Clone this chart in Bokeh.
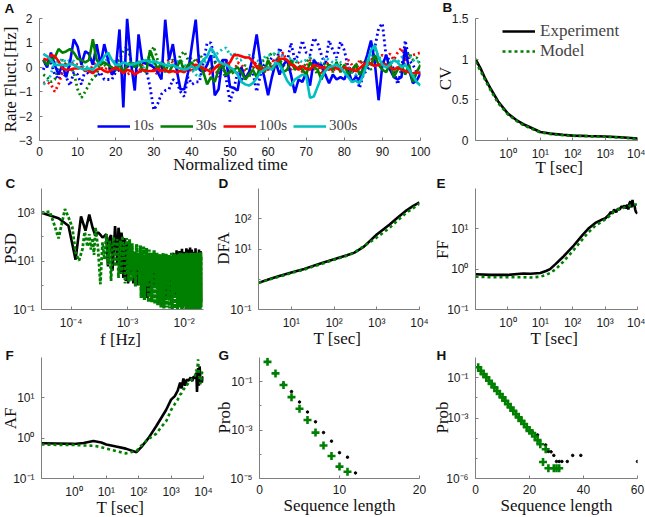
from math import pi
from bokeh.plotting import figure
from bokeh.layouts import column, row
from bokeh.models import FixedTicker, Label, Legend, LegendItem
from bokeh.embed import file_html
from bokeh.resources import INLINE

BLUE, GREEN, RED, CYAN, BLACK = "#0000ff", "#008000", "#ff0000", "#00bfbf", "#000000"
GREY = "#7f7f7f"

# ---------- A
blue_s = [0.3,0.0,0.6,0.1,-0.3,0.1,-0.4,0.2,1.15,0.85,0.1,0.65,0.55,0.1,0.95,0.1,0.95,0.3,-0.3,-0.1,1.55,-1.65,2.0,0.2,-0.95,1.35,0.2,0.15,0.1,0.0,-0.2,-0.5,1.95,0.3,0.95,-0.1,-0.9,-0.9,-0.2,0.9,1.95,-0.1,-0.2,0.1,0.5,-1.15,-0.9,0.3,0.3,-0.8,-0.85,-0.95,0.0,-0.5,-0.2,0.4,1.35,0.2,-0.4,-1.15,-0.4,0.2,-0.3,0.1,0.3,-0.3,-1.05,-0.5,-0.6,-0.2,-0.75,0.3,0.1,0.1,-0.3,-0.65,-0.3,-0.5,-0.4,-0.5,-0.1,-0.6,-0.4,-0.5,0.0,0.5,1.1,0.2,-1.35,0.1,0.5,-0.1,-0.4,-0.5,-0.4,0.8,-0.1,-0.65,-0.55,-0.25]
blue_d = [-0.1,0.3,0.2,-0.3,-0.5,-0.2,-0.4,-0.75,-0.2,-0.3,-0.7,-0.1,-0.3,-0.1,-0.4,-0.2,-0.5,-0.5,-0.5,-0.2,-0.1,-0.3,0.1,-0.2,-0.3,-0.1,-0.2,-0.1,-0.8,-1.75,-1.5,-1.1,-0.95,-0.9,-0.5,-0.6,-1.0,-1.2,-0.4,-0.7,-0.6,-0.6,0.2,1.0,1.0,0.3,-0.3,0.3,-0.5,-1.4,-0.9,-0.2,-0.5,-0.4,-0.3,-0.2,-1.0,-0.3,0.1,0.2,0.4,0.1,0.8,0.4,0.2,1.0,0.3,0.5,1.1,0.6,0.5,1.2,1.0,0.5,0.1,1.1,0.7,0.4,1.05,0.7,0.0,-0.1,-0.3,-0.85,-0.3,-0.1,0.1,0.8,1.6,1.8,0.4,0.3,-0.1,-0.7,-0.1,1.1,0.3,0.1,-0.2,-0.2]
green_s = [0.3,0.1,0.3,0.4,0.75,0.6,0.65,0.75,0.6,0.35,0.3,0.2,0.3,1.15,0.3,0.1,0.2,0.1,0.0,-0.1,0.1,-0.2,0.1,0.2,0.0,0.25,-0.1,-0.2,0.7,0.3,-0.1,0.2,-0.1,-0.2,0.1,0.0,0.3,-0.2,0.1,0.2,-0.1,0.1,-0.2,-0.7,-0.4,-0.6,-0.1,0.1,-0.3,-0.2,-0.1,0.0,-0.2,-0.5,-0.3,-0.1,-0.4,0.1,-0.2,0.3,-0.1,0.1,0.3,-0.2,-0.1,0.3,-0.1,0.0,-0.1,-0.3,0.2,0.0,-0.1,-0.5,-0.1,0.1,-0.1,0.2,-0.2,0.1,-0.3,-0.1,0.1,-0.3,-0.1,0.3,0.1,0.5,0.1,-0.1,-0.2,0.2,-0.4,-0.1,0.1,-0.3,0.1,-0.6,-0.2,0.1]
green_d = [-0.3,-0.4,-0.6,-0.5,0.0,0.3,0.1,0.0,-0.2,-0.9,-1.25,-1.0,-0.7,-0.45,-0.3,0.2,0.1,0.0,-0.1,0.2,0.3,0.7,0.85,0.3,0.1,0.0,0.3,0.2,0.5,0.85,0.3,0.1,-0.2,0.2,0.3,0.1,0.5,0.65,0.3,0.4,0.2,0.55,0.3,0.1,-0.1,0.2,0.0,-0.2,-0.4,0.0,-0.3,-0.1,-0.2,0.1,-0.4,0.0,-0.1,0.2,0.3,0.4,0.6,0.5,0.3,0.1,-0.2,0.2,0.3,0.1,-0.1,0.2,0.4,0.0,-0.3,-0.1,0.2,0.1,-0.2,0.2,0.1,-0.1,-0.4,-0.2,0.1,0.2,0.3,0.1,-0.1,0.3,0.5,0.1,0.2,-0.1,-0.3,0.0,-0.2,0.3,0.6,0.3,0.4,0.1]
red_s = [0.35,0.3,0.5,0.45,0.25,-0.05,-0.1,-0.1,-0.05,-0.05,0.0,-0.15,-0.1,-0.25,-0.1,-0.05,-0.15,-0.2,-0.1,0.0,-0.1,-0.25,-0.1,-0.15,-0.3,-0.2,-0.1,-0.15,-0.15,-0.15,-0.05,-0.15,-0.1,-0.2,-0.15,-0.2,-0.15,-0.2,-0.05,0.05,0.1,0.05,-0.05,-0.1,-0.2,-0.05,0.1,0.15,0.1,0.2,0.5,0.5,0.45,0.4,0.4,0.25,0.0,-0.05,-0.05,-0.1,0.0,0.15,0.35,0.35,0.3,0.1,0.05,-0.1,0.05,-0.05,-0.1,0.1,0.05,0.0,-0.05,-0.1,0.05,-0.05,-0.1,0.0,-0.05,-0.1,-0.15,-0.05,0.1,0.2,0.15,0.05,0.1,0.15,0.1,0.0,-0.1,0.0,-0.1,-0.15,-0.2,-0.25,-0.2,-0.25]
red_d = [-0.65,-0.6,-0.7,-1.0,-0.7,-0.2,0.2,0.1,0.2,0.1,0.0,-0.1,-0.2,0.1,0.2,0.0,-0.1,0.0,-0.2,-0.1,0.0,-0.1,-0.3,-0.2,-0.1,-0.2,0.1,0.2,0.1,-0.1,-0.3,0.1,0.2,0.3,0.2,-0.1,-0.2,0.1,0.0,-0.2,0.2,0.3,0.0,-0.2,-0.3,0.0,-0.4,0.1,0.3,0.0,-0.2,0.2,0.1,-0.2,-0.3,0.1,0.2,-0.1,-0.2,0.0,0.3,0.2,0.5,0.6,0.2,-0.1,0.1,0.2,-0.2,0.0,0.3,-0.1,0.2,-0.3,0.1,0.2,-0.2,0.1,-0.1,0.0,0.3,0.1,-0.2,0.3,0.1,0.2,0.4,0.2,0.4,0.5,0.4,0.55,0.3,0.6,0.8,0.3,0.4,0.5,0.55,0.6]
cyan_s = [0.55,0.45,0.3,0.1,0.1,0.1,0.05,0.15,0.1,0.0,-0.05,-0.1,-0.05,-0.1,0.1,0.2,0.45,0.6,0.3,0.1,0.1,0.2,0.15,0.1,0.15,0.2,0.25,0.3,0.2,0.25,0.2,0.15,0.1,0.05,0.1,0.0,-0.05,-0.1,-0.05,0.05,-0.1,0.1,0.3,0.45,0.8,0.55,0.25,0.15,0.1,0.0,-0.1,-0.3,-0.6,-0.7,-0.75,-0.65,-0.45,-0.2,-0.1,0.0,-0.1,0.2,0.1,-0.2,-0.55,-0.75,-0.5,-0.4,-0.3,-0.35,-1.25,-1.2,-0.8,-0.4,-0.15,0.0,0.05,0.1,0.0,-0.2,-0.4,-0.6,-0.55,-0.65,-0.3,0.15,0.7,0.9,0.4,0.1,0.0,0.1,0.3,0.2,0.0,0.1,-0.1,-0.35,-0.6,-0.75]
cyan_d = [-0.7,-0.6,-0.3,0.3,0.2,0.35,0.2,0.3,0.25,-0.05,0.0,0.1,-0.1,-0.2,0.1,0.3,0.2,0.4,0.3,0.2,0.1,0.3,0.2,0.1,0.0,0.1,-0.1,0.2,0.3,0.1,0.0,-0.1,0.1,0.2,0.0,0.2,0.3,0.1,0.0,-0.1,-0.3,-0.4,0.1,0.3,0.4,0.5,0.6,0.75,0.8,0.5,0.6,0.3,0.3,0.4,0.5,0.4,0.3,0.2,0.4,0.5,0.5,0.6,0.6,0.4,0.3,0.4,0.2,0.3,0.2,0.3,0.4,0.3,0.1,0.2,0.4,0.3,0.2,0.3,0.2,0.1,0.0,-0.2,-0.3,-0.2,0.0,0.2,0.4,0.8,0.4,0.3,0.1,0.2,0.3,0.2,0.4,0.5,0.5,0.3,0.2,0.3]
a_legend = ["10s", "30s", "100s", "300s"]

# ---------- B
cv_t = [0.1,0.15,0.2,0.3,0.5,1,2,3,5,10,20,50,100,300,1000,3000,10000]
cv_exp = [1.0,0.87,0.76,0.63,0.48,0.33,0.24,0.2,0.16,0.105,0.085,0.07,0.06,0.055,0.05,0.04,0.025]
cv_mod = [0.97,0.84,0.74,0.61,0.46,0.32,0.23,0.19,0.15,0.1,0.08,0.065,0.058,0.052,0.047,0.037,0.02]

# ---------- C
psd_exp_k = [1,2,3,4,5,6,7,8,9,10,11,12,13,14,15,16,17,18,19,20,21,22,23,24,25,26,27,28,29,30,31,32,33,34,35,36,38,40,42,44,46,48,50,54,58,62,66,70,75,80,85,90,100,110,120,130,140,150,160,170,180,190,200,215,230,245,260,275,290,305,320,335,350,365,380,395,410,425,440,455,470,490,510,530,550,570,590,610,630,650,666]
psd_exp = [1000,590,290,11.5,700,180,830,245,112,155,123,95,110,130,6,90,120,4,30,280,50,7,240,100,3,150,60,2,40,90,1.5,30,60,1.2,25,50,3,20,1.2,18,4,15,1,12,3,0.4,8,2,0.3,5,0.35,6,1,12,0.4,10,0.3,8,0.25,9,0.5,16,0.2,22,0.3,28,0.2,26,0.4,32,0.2,24,0.3,34,0.2,30,0.15,36,0.3,30,0.2,24,0.15,34,0.3,22,0.2,30,0.3,26,0.2]
psd_mod_k = [1,1.4,1.7,2,2.6,3,3.5,4,4.6,5.3,5.8,6.5,7,7.5,8,8.5,9,10,11,12,13,14,15,16,17,18,19,20,21,22,23,24,25,26,27,28,29,30,31,32,33,34,35,36,37,38,39,40,42,44,46,48,50,52,54,56,58,60,62,64,66,68,70,72,74,76,78,80,83,86,89,92,95,98,101,104,107,110,114,118,122,126,130,134,138,142,146,150,155,160,165,170,175,180,185,190,195,200,206,212,218,224,230,236,242,248,254,260,266,272,278,284,290,296,302,308,314,320,326,332,338,344,350,356,362,368,374,380,386,392,398,404,410,416,422,428,434,440,446,452,458,464,470,476,482,488,494,500,506,512,518,524,530,536,542,548,554,560,566,572,578,584,590,596,602,608,614,620,626,632,638,644,650,656,662,666]
psd_mod = [1000,1100,300,87,1400,650,250,23,10.5,31,160,40,130,30,90,18,250,35,1.1,60,12,130,7,70,1.5,45,100,6,35,80,2,25,70,3,110,12,50,1.2,40,90,3,30,1.4,80,6,30,1.5,55,2,25,0.9,50,5,22,1,45,0.3,20,3,40,0.25,18,1.5,35,0.9,20,0.2,30,2,22,0.2,20,4,28,0.17,15,1,22,0.15,18,3,20,0.12,15,0.5,22,0.11,16,1,20,0.12,13,0.3,18,0.11,16,2,22,0.1,14,0.3,20,0.11,15,0.6,18,0.1,20,1,14,0.12,22,0.3,16,0.1,18,2,21,0.11,14,0.4,20,0.1,17,0.8,22,0.13,15,0.2,19,0.1,21,1.5,16,0.11,20,0.3,22,0.1,14,0.6,18,0.12,21,0.2,16,0.1,22,1,19,0.11,15,0.4,20,0.1,22,0.7,17,0.12,20,0.2,14,0.1,21,1.2,18,0.11,22,0.35,16,0.1,20,0.5,23,0.12,17,0.25,21,0.1,18]

# ---------- D
dfa_t = [1.7,3,5,10,20,50,100,200,300,500,1000,2000,3000,5000,7000,10000]
dfa_exp = [0.76,1.0,1.25,1.66,2.2,3.4,4.6,6.2,7.6,12,30,65,105,190,260,350]
dfa_mod = [0.76,0.98,1.2,1.6,2.1,3.2,4.4,6.0,7.6,12.5,24,50,85,160,220,320]

# ---------- E
ff_t = [0.1,0.3,1,3,5,10,15,20,30,50,100,200,300,500,800,1000,1300,1500,1700,1900,2200,2500,2800,3200,3600,4000,4400,4800,5200,5600,6000,6500,7000,7500,8000,8500,9000,10000]
ff_exp = [0.75,0.72,0.72,0.78,0.77,0.8,0.9,1.0,1.35,2.0,3.6,7,10,14,17,18,22,26,24,30,26,32,30,36,34,38,32,40,30,42,48,34,52,36,40,30,26,24]
ff_mod = [0.65,0.63,0.63,0.63,0.62,0.65,0.72,0.8,1.0,1.5,2.8,5.5,8,12,15,17,20,23,25,27,28,30,31,32,33,34,35,36,36,37,38,38,39,39,40,40,40,40]

# ---------- F
af_t = [0.1,0.3,1,2,4,7,10,20,40,85,120,200,350,500,700,1000,1300,1600,1900,2100,2400,2700,3000,3500,4000,4500,5000,5500,6000,6300,6800,7200,7600,8000,8500,9000,10000]
af_exp = [0.75,0.74,0.72,0.76,0.85,0.78,0.7,0.62,0.55,0.45,0.6,1.0,2.0,3.2,5,9,11,15,24,17,30,20,28,27,32,26,34,30,42,14,55,20,60,30,28,24,34]
af_mod = [0.7,0.68,0.68,0.66,0.65,0.6,0.55,0.48,0.42,0.48,0.65,0.95,1.3,1.9,2.6,5,7,9,12,13,16,18,20,24,26,30,32,36,50,40,90,45,30,22,26,40,50]

# ---------- G
g_n = [1,2,3,4,5,6,7,8,9,10,11,12]
g_exp = [0.66,0.22,0.08,0.039,0.0145,0.0056,0.0022,0.00079,0.00035,0.000117,0.000076,0.000017]
g_mod_n = [1,2,3,4,5,6,7,8,9,10,11]
g_mod = [0.66,0.22,0.073,0.023,0.0076,0.0026,0.00079,0.00023,0.000085,0.000031,0.000019]

# ---------- H
h_n = [1,2,3,4,5,6,7,8,9,10,11,12,13,14,15,16,17,18,19,20,21,23,26,27,28,29,30,31,32,34,36,39,60]
h_exp = [0.33,0.22,0.15,0.105,0.07,0.049,0.033,0.022,0.0155,0.0105,0.0072,0.0049,0.0033,0.0023,0.00155,0.00107,0.00072,0.0005,0.00035,0.00023,0.00021,0.000145,0.000046,0.000022,0.000021,0.000014,0.000007,0.000007,0.000007,0.000007,0.000014,0.000014,0.000007]
h_mod_n = [1,2,3,4,5,6,7,8,9,10,11,12,13,14,15,16,17,18,19,20,21,22,23,24,25,26,27,29,30,31]
h_mod = [0.33,0.22,0.15,0.105,0.07,0.049,0.033,0.022,0.0155,0.0105,0.0072,0.0049,0.0033,0.0023,0.00155,0.00107,0.00072,0.0005,0.00035,0.00023,0.00018,0.00012,0.00008,0.00005,0.0000066,0.000028,0.0000032,0.0000032,0.0000032,0.0000032]

# panel letters and axis titles, with the page position of their centres
panel_letters = [("A", 4, 8), ("B", 442, 7), ("C", 5, 183), ("D", 218, 183),
                 ("E", 436, 183), ("F", 5, 355), ("G", 218, 355), ("H", 436, 355)]
x_titles = [("Normalized time", 230, 164), ("T  [sec]", 561, 167), ("f [Hz]", 120, 339),
            ("T  [sec]", 339, 338), ("T  [sec]", 556, 338), ("T  [sec]", 122, 507),
            ("Sequence length", 339, 505), ("Sequence length", 556, 505)]
y_titles = [("Rate Fluct.[Hz]", 10, 79), ("CV", 445, 78), ("PSD", 10, 248), ("DFA", 223, 248),
            ("FF", 442, 249), ("AF", 10, 418), ("Prob", 224, 417), ("Prob", 442, 417)]

SUP = {"0": "⁰", "1": "¹", "2": "²", "3": "³", "4": "⁴", "5": "⁵", "6": "⁶", "-": "⁻"}


def pair(xs, ys):
    n = min(len(xs), len(ys))
    return list(xs[:n]), list(ys[:n])


def fig(size, border, x_range, y_range, log_x=True, log_y=True):
    w, h = size
    left, right, top, bottom = border
    p = figure(width=w, height=h, x_range=x_range, y_range=y_range,
               x_axis_type="log" if log_x else "linear",
               y_axis_type="log" if log_y else "linear",
               output_backend="svg", toolbar_location=None,
               min_border_left=left, min_border_right=right,
               min_border_top=top, min_border_bottom=bottom)
    p.outline_line_color = None
    p.background_fill_color = "white"
    p.grid.visible = False
    for ax in (p.xaxis[0], p.yaxis[0]):
        ax.axis_line_color = GREY
        ax.major_tick_line_color = GREY
        ax.minor_tick_line_color = GREY
        ax.major_tick_in = 3
        ax.major_tick_out = 0
        ax.minor_tick_in = 2
        ax.minor_tick_out = 0
        ax.major_label_text_font = "Liberation Sans"
        ax.major_label_text_font_size = "12px"
        ax.major_label_text_color = "#1a1a1a"
    p.xaxis[0].major_label_standoff = 6
    p.yaxis[0].major_label_standoff = 7
    return p


def log_ticks(ax, major, minor):
    labels = {}
    for exp, val in major:
        labels[val] = "10" + "".join(SUP[c] for c in str(exp))
    ax.ticker = FixedTicker(ticks=[v for _, v in major], minor_ticks=minor)
    ax.major_label_overrides = labels


DEC = [1e-5, 1e-4, 1e-3, 1e-2, 1e-1, 1, 10, 100, 1000, 10000]
X_T = [(0, 1), (1, 10), (2, 100), (3, 1000), (4, 10000)]

# A
A = fig((435, 173), (39, 15, 18, 33), (0, 100), (-3, 2), log_x=False, log_y=False)
t = list(range(1, 101))
A.xaxis[0].ticker = FixedTicker(ticks=[0, 10, 20, 30, 40, 50, 60, 70, 80, 90, 100])
A.yaxis[0].ticker = FixedTicker(ticks=[-3, -2, -1, 0, 1, 2])
A.yaxis[0].major_label_overrides = {-3: "−3", -2: "−2", -1: "−1", 0: "0", 1: "1", 2: "2"}
for ser, c in ((blue_d, BLUE), (green_d, GREEN), (red_d, RED), (cyan_d, CYAN)):
    A.line(*pair(t, ser), line_color=c, line_width=2.8, line_dash="2 3")
rs = []
for ser, c in ((blue_s, BLUE), (green_s, GREEN), (red_s, RED), (cyan_s, CYAN)):
    rs.append(A.line(*pair(t, ser), line_color=c, line_width=2.6))
A.add_layout(Legend(items=[LegendItem(label=l, renderers=[r]) for l, r in zip(a_legend, rs)],
                    orientation="horizontal", location=(58, 6), background_fill_alpha=0,
                    border_line_color=None, padding=0, margin=0, spacing=6, label_standoff=3,
                    glyph_width=33, glyph_height=14, label_text_font="Liberation Serif",
                    label_text_font_size="15px", label_height=14))

# B
B = fig((210, 173), (40, 8, 18, 33), (0.1, 10000), (0, 1.5), log_y=False)
log_ticks(B.xaxis[0], X_T, DEC)
B.yaxis[0].ticker = FixedTicker(ticks=[0, 0.5, 1, 1.5])
B.yaxis[0].major_label_overrides = {0: "0", 0.5: "0.5", 1: "1", 1.5: "1.5"}
r1 = B.line(*pair(cv_t, cv_exp), line_color=BLACK, line_width=2.6)
r2 = B.line(*pair(cv_t, cv_mod), line_color=GREEN, line_width=2.6, line_dash="3 3")
for label, rend, ly in (("Experiment", r1, 99), ("Model", r2, 79)):
    B.add_layout(Legend(items=[LegendItem(label=label, renderers=[rend])],
                        location=(27, ly), background_fill_alpha=0, border_line_color=None,
                        padding=0, margin=0, spacing=0, label_standoff=5, glyph_width=33,
                        glyph_height=16, label_text_font="Liberation Serif",
                        label_text_font_size="17px", label_height=16))

# C
C = fig((215, 167), (41, 12, 15, 31), (3e-5, 0.022), (0.1, 10000))
log_ticks(C.xaxis[0], [(-4, 1e-4), (-3, 1e-3), (-2, 1e-2)], [1e-4, 1e-3, 1e-2])
log_ticks(C.yaxis[0], [(-1, 0.1), (1, 10), (3, 1000)], [1, 100])
C.line(*pair([k * 3e-5 for k in psd_exp_k], psd_exp), line_color=BLACK, line_width=2.6)
mod_k, mod_v = pair(psd_mod_k, psd_mod)
low = [(k * 3e-5, v) for k, v in zip(mod_k, mod_v) if k <= 33]
high = [(k * 3e-5, v) for k, v in zip(mod_k, mod_v) if k >= 33]
C.line([a for a, _ in low], [b for _, b in low], line_color=GREEN, line_width=2.8, line_dash="3 2")
C.line([a for a, _ in high], [b for _, b in high], line_color=GREEN, line_width=3.2, line_dash="4 1")

# D
D = fig((220, 167), (43, 16, 15, 31), (1.7, 10000), (0.1, 1000))
log_ticks(D.xaxis[0], [(1, 10), (2, 100), (3, 1000), (4, 10000)], DEC)
log_ticks(D.yaxis[0], [(-1, 0.1), (1, 10), (2, 100)], [1])
D.line(*pair(dfa_t, dfa_exp), line_color=BLACK, line_width=2.6)
D.line(*pair(dfa_t, dfa_mod), line_color=GREEN, line_width=2.6, line_dash="3 3")

# E
E = fig((210, 167), (40, 8, 15, 31), (0.1, 10000), (0.1, 100))
log_ticks(E.xaxis[0], X_T, DEC)
log_ticks(E.yaxis[0], [(-1, 0.1), (0, 1), (1, 10)], [])
E.line(*pair(ff_t, ff_exp), line_color=BLACK, line_width=2.6)
E.line(*pair(ff_t, ff_mod), line_color=GREEN, line_width=2.6, line_dash="3 3")

# F
F = fig((215, 177), (41, 12, 17, 39), (0.1, 10000), (0.1, 100))
log_ticks(F.xaxis[0], X_T, DEC)
log_ticks(F.yaxis[0], [(-1, 0.1), (0, 1), (1, 10)], [])
F.line(*pair(af_t, af_exp), line_color=BLACK, line_width=2.6)
F.line(*pair(af_t, af_mod), line_color=GREEN, line_width=2.6, line_dash="3 3")

# G
G = fig((220, 177), (44, 16, 17, 39), (0, 20), (1e-5, 1), log_x=False)
G.xaxis[0].ticker = FixedTicker(ticks=[0, 10, 20])
log_ticks(G.yaxis[0], [(-5, 1e-5), (-3, 1e-3), (-1, 1e-1)], [1e-4, 1e-2])
G.scatter(*pair(g_n, g_exp), marker="circle", size=2.5, color=BLACK)
G.scatter(*pair(g_mod_n, g_mod), marker="cross", size=8, line_width=2.6, line_color=GREEN)

# H
H = fig((210, 177), (40, 8, 17, 39), (0, 60), (1e-6, 1), log_x=False)
H.xaxis[0].ticker = FixedTicker(ticks=[0, 20, 40, 60])
log_ticks(H.yaxis[0], [(-6, 1e-6), (-3, 1e-3), (-1, 1e-1)], [1e-5, 1e-4, 1e-2])
H.scatter(*pair(h_n, h_exp), marker="circle", size=2.5, color=BLACK)
H.scatter(*pair(h_mod_n, h_mod), marker="cross", size=8, line_width=2.6, line_color=GREEN)

# transparent page-sized sheet that carries the letters and axis titles
sheet = figure(width=645, height=517, x_range=(0, 645), y_range=(517, 0),
               output_backend="svg", toolbar_location=None, x_axis_type=None, y_axis_type=None,
               min_border=0, min_border_left=0, min_border_right=0, min_border_top=0,
               min_border_bottom=0, background_fill_color=None, border_fill_color=None,
               outline_line_color=None,
               styles={"position": "absolute", "left": "0px", "top": "0px", "pointer-events": "none"})
sheet.grid.visible = False
for text, x, y in panel_letters:
    sheet.add_layout(Label(x=x, y=y, text=text, text_font="Liberation Sans", text_font_style="bold",
                           text_font_size="13.5px", text_color="#111111",
                           text_baseline="middle", text_align="left"))
for text, x, y in x_titles:
    sheet.add_layout(Label(x=x, y=y, text=text, text_font="Liberation Serif", text_font_size="17px",
                           text_color="#111111", text_baseline="middle", text_align="center"))
for text, x, y in y_titles:
    sheet.add_layout(Label(x=x, y=y, text=text, text_font="Liberation Serif", text_font_size="17px",
                           text_color="#111111", text_baseline="middle", text_align="center",
                           angle=pi / 2))

root = column(row(A, B, spacing=0), row(C, D, E, spacing=0), row(F, G, H, spacing=0), spacing=0,
              styles={"position": "absolute", "left": "0px", "top": "0px"})

open("out.html", "w").write(file_html([root, sheet], INLINE))
